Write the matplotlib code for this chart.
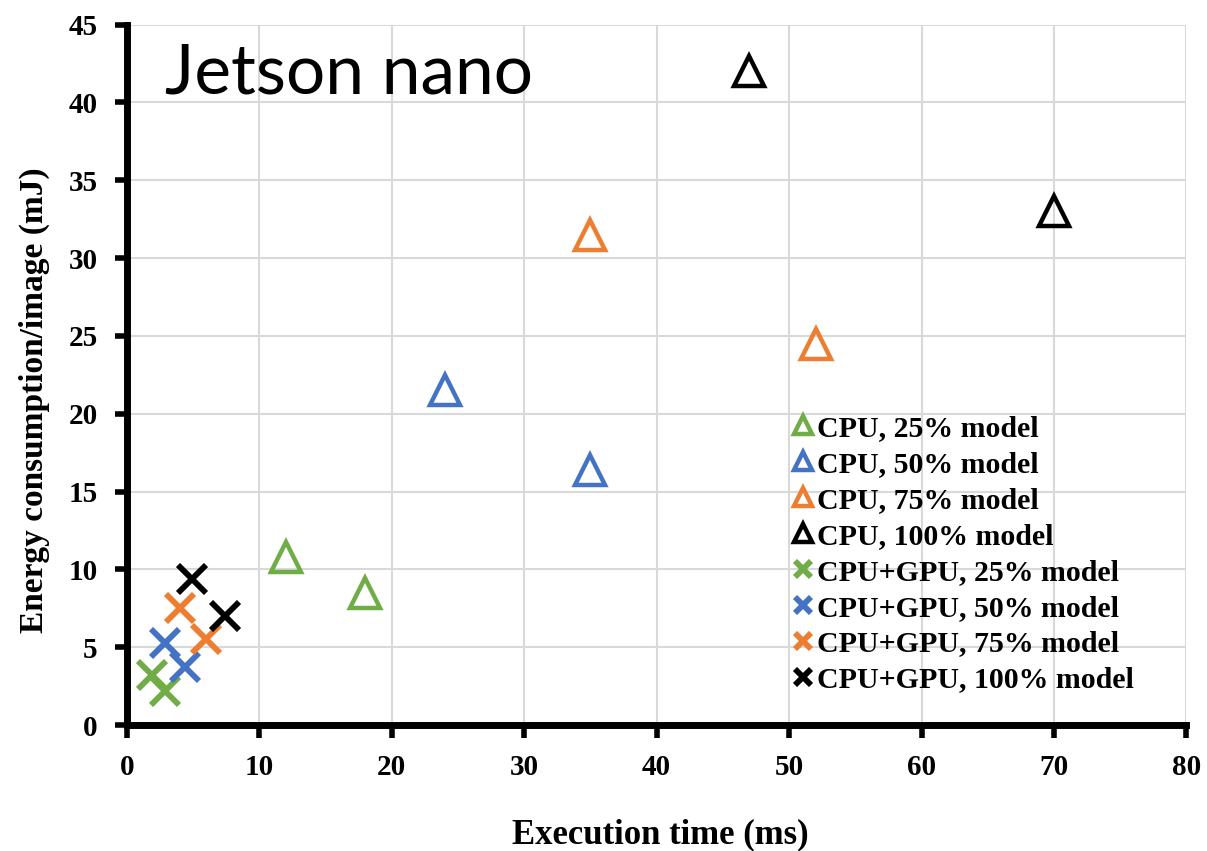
import matplotlib
matplotlib.use("Agg")
import matplotlib.pyplot as plt

labels = ["CPU, 25% model", "CPU, 50% model", "CPU, 75% model", "CPU, 100% model",
          "CPU+GPU, 25% model", "CPU+GPU, 50% model", "CPU+GPU, 75% model", "CPU+GPU, 100% model"]
colors = ["#70AD47", "#4472C4", "#ED7D31", "#000000"] * 2
markers = ["^"] * 4 + ["x"] * 4

cpu25_x = [12, 18];   cpu25_y = [10.8, 8.5]
cpu50_x = [24, 35];   cpu50_y = [21.5, 16.4]
cpu75_x = [35, 52];   cpu75_y = [31.5, 24.5]
cpu100_x = [47, 70];  cpu100_y = [42, 33]
gpu25_x = [1.9, 2.9]; gpu25_y = [3.2, 2.2]
gpu50_x = [2.9, 4.4]; gpu50_y = [5.3, 3.7]
gpu75_x = [4.0, 6.0]; gpu75_y = [7.5, 5.5]
gpu100_x = [4.9, 7.4]; gpu100_y = [9.4, 7.0]

xs = [cpu25_x, cpu50_x, cpu75_x, cpu100_x, gpu25_x, gpu50_x, gpu75_x, gpu100_x]
ys = [cpu25_y, cpu50_y, cpu75_y, cpu100_y, gpu25_y, gpu50_y, gpu75_y, gpu100_y]

fig = plt.figure(figsize=(12.07, 8.51), dpi=100)
ax = fig.add_axes([0.105, 0.148, 0.878, 0.823])

for x, y, c, m, l in zip(xs, ys, colors, markers, labels):
    if m == "^":
        ax.plot(x, y, linestyle="none", marker="^", markersize=22, markerfacecolor="none",
                markeredgecolor=c, markeredgewidth=3.2, label=l, zorder=3)
    else:
        ax.plot(x, y, linestyle="none", marker="x", markersize=20, color=c,
                markeredgewidth=4.2, label=l, zorder=3)

ax.set_xlim(0, 80)
ax.set_ylim(0, 45)
ax.set_xticks(range(0, 81, 10))
ax.set_yticks(range(0, 46, 5))
ax.grid(True, color="#d9d9d9", linewidth=1.5)
ax.set_axisbelow(True)

for s in ["top", "right"]:
    ax.spines[s].set_visible(False)
for s in ["left", "bottom"]:
    ax.spines[s].set_linewidth(5)

ax.tick_params(axis="both", direction="out", length=9, width=4, labelsize=21, pad=12)
for lab in ax.get_xticklabels() + ax.get_yticklabels():
    lab.set_fontfamily("Liberation Serif")
    lab.set_fontweight("bold")

fig.text(660 / 1207, 1 - 835 / 851, "Execution time (ms)", fontfamily="Liberation Serif",
         fontweight="bold", fontsize=25, ha="center", va="center")
fig.text(34 / 1207, 1 - 400 / 851, "Energy consumption/image (mJ)", fontfamily="Liberation Serif",
         fontweight="bold", fontsize=24, ha="center", va="center", rotation=90)

ax.text(0.036, 0.975, "Jetson nano", transform=ax.transAxes, fontfamily="Lato",
        fontsize=50, va="top", ha="left")

leg = ax.legend(loc="upper left", bbox_to_anchor=(0.63, 0.443), frameon=False,
                prop={"family": "Liberation Serif", "weight": "bold", "size": 21.5},
                markerscale=0.6, handlelength=0.6, handletextpad=0.15, labelspacing=0.3,
                borderpad=0, borderaxespad=0)

fig.savefig("out.png", dpi=100)
